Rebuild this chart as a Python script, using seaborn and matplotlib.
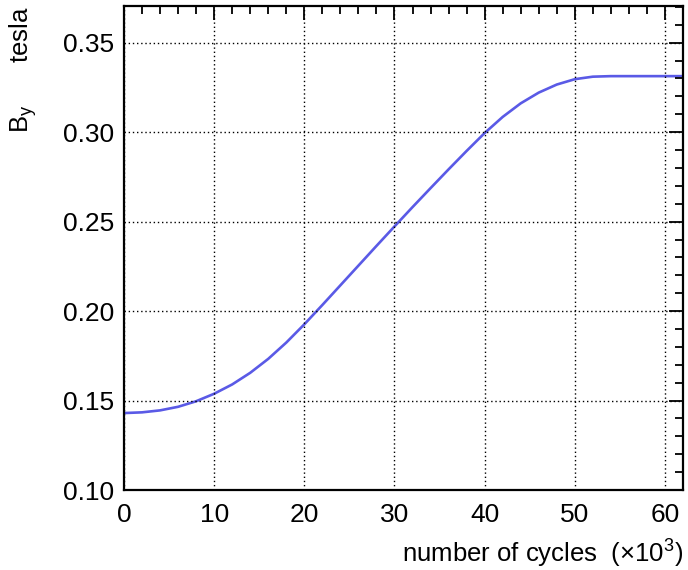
import matplotlib
matplotlib.use("Agg")
import matplotlib.pyplot as plt
import seaborn as sns
import pandas as pd
from matplotlib.ticker import MultipleLocator, FormatStrFormatter

# Field B_y versus number of cycles (in thousands)
cycles = [0, 2, 4, 6, 8, 10, 12, 14, 16, 18, 20, 22, 24, 26, 28, 30,
          32, 34, 36, 38, 40, 42, 44, 46, 48, 50, 52, 54, 56, 58, 60, 62]
b_y = [0.1430, 0.1434, 0.1445, 0.1465, 0.1496, 0.1538, 0.1590, 0.1655,
       0.1733, 0.1824, 0.1926, 0.2034, 0.2144, 0.2254, 0.2364, 0.2473,
       0.2581, 0.2687, 0.2792, 0.2895, 0.2995, 0.3085, 0.3161, 0.3221,
       0.3266, 0.3296, 0.3310, 0.3313, 0.3313, 0.3313, 0.3313, 0.3313]

df = pd.DataFrame({"cycles": cycles, "B_y": b_y})

sns.set_style("white")
plt.rcParams["font.family"] = ["Liberation Sans", "DejaVu Sans"]
plt.rcParams["mathtext.fontset"] = "custom"
plt.rcParams["mathtext.rm"] = "Liberation Sans"
plt.rcParams["mathtext.it"] = "Liberation Sans"
plt.rcParams["text.color"] = "black"
plt.rcParams["axes.labelcolor"] = "black"
plt.rcParams["xtick.color"] = "black"
plt.rcParams["ytick.color"] = "black"

fig = plt.figure(figsize=(6.88, 5.70), dpi=100)
ax = fig.add_axes([124 / 688, 80 / 570, 559 / 688, 484 / 570])

sns.lineplot(data=df, x="cycles", y="B_y", ax=ax, color="#5a5ae6",
             linewidth=1.9)

ax.set_xlim(0, 62)
ax.set_ylim(0.10, 0.3705)
ax.xaxis.set_major_locator(MultipleLocator(10))
ax.xaxis.set_minor_locator(MultipleLocator(2))
ax.yaxis.set_major_locator(MultipleLocator(0.05))
ax.yaxis.set_minor_locator(MultipleLocator(0.01))
ax.yaxis.set_major_formatter(FormatStrFormatter("%.2f"))

ax.grid(True, which="major", color="black", linestyle=(0, (1, 2)),
        linewidth=1.0)
ax.set_axisbelow(False)

for s in ax.spines.values():
    s.set_color("black")
    s.set_linewidth(1.6)

ax.tick_params(which="both", direction="in", top=True, right=True,
               color="black", labelcolor="black", width=1.3)
ax.tick_params(which="major", length=10, labelsize=19, pad=7)
ax.tick_params(which="minor", length=5.5)
ax.tick_params(axis="x", which="major", pad=9)

ax.set_xlabel("number of cycles  (\u00d710$^{3}$)", fontsize=18.5,
              loc="right", labelpad=8, color="black")
ax.set_ylabel("B$_{y}$      tesla", fontsize=18.5, loc="top", color="black")
ax.yaxis.set_label_coords(-0.152, 1.0)

fig.savefig("out.png", dpi=100)
